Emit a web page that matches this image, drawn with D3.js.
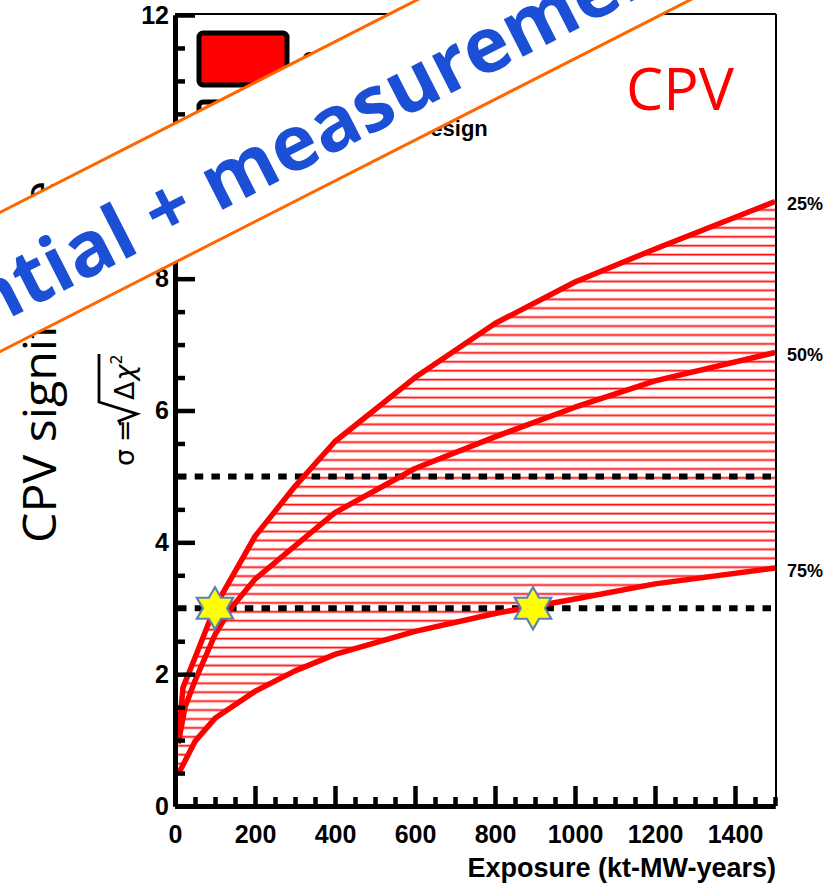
<!DOCTYPE html>
<html lang="en">
<head>
<meta charset="UTF-8">
<title>CPV significance vs exposure</title>
<style>
  html, body { margin: 0; padding: 0; background: #fff; }
  svg { display: block; }
  .tick text { font-family: "Liberation Sans", Arial, sans-serif; font-weight: bold; font-size: 25px; fill: #000; }
</style>
</head>
<body>
<script src="https://d3js.org/d3.v7.min.js"></script>
<script>
// curves: exposure (kt-MW-years) vs sigma, for three delta_CP coverage fractions
const exp25 = [8, 20, 50, 100, 200, 300, 400, 600, 800, 1000, 1200, 1500];
const sig25 = [1.0, 1.8, 2.25, 3.02, 4.09, 4.85, 5.53, 6.5, 7.32, 7.95, 8.45, 9.17];
const exp50 = [8, 25, 50, 100, 140, 200, 400, 600, 800, 1000, 1200, 1500];
const sig50 = [0.95, 1.5, 1.9, 2.6, 3.0, 3.44, 4.45, 5.12, 5.6, 6.05, 6.45, 6.88];
const exp75 = [8, 50, 100, 200, 300, 400, 600, 800, 1000, 1200, 1500];
const sig75 = [0.48, 0.98, 1.33, 1.74, 2.05, 2.3, 2.65, 2.92, 3.14, 3.37, 3.61];
const percentLabels = ["25%", "50%", "75%"];
const refLevels = [5, 3];
const starExp = [100, 895];
const starSig = [3, 3];
const xTicks = [0, 200, 400, 600, 800, 1000, 1200, 1400];
const yTicks = [0, 2, 4, 6, 8, 10, 12];
const legendLabels = ["CDR Reference Design", "Optimized Design"];

const W = 830, H = 884;
const x = d3.scaleLinear().domain([0, 1500]).range([175, 775]);
const y = d3.scaleLinear().domain([0, 12]).range([806, 15]);

const svg = d3.select("body").append("svg")
    .attr("width", W).attr("height", H);

svg.append("rect").attr("width", W).attr("height", H).attr("fill", "#fff");

// hatch pattern
const defs = svg.append("defs");
const pat = defs.append("pattern")
    .attr("id", "hatch")
    .attr("patternUnits", "userSpaceOnUse")
    .attr("width", 20).attr("height", 8.93);
pat.append("line").attr("x1", 0).attr("x2", 20).attr("y1", 4.6).attr("y2", 4.6)
    .attr("stroke", "#ffb4b4").attr("stroke-width", 3);
pat.append("line").attr("x1", 0).attr("x2", 20).attr("y1", 4.6).attr("y2", 4.6)
    .attr("stroke", "#ff1010").attr("stroke-width", 1.4);

const c25 = exp25.map((e, i) => [e, sig25[i]]);
const c50 = exp50.map((e, i) => [e, sig50[i]]);
const c75 = exp75.map((e, i) => [e, sig75[i]]);

const line = d3.line().x(d => x(d[0])).y(d => y(d[1]));

// hatched band between 25% and 75%
const band = c25.concat(c75.slice().reverse());
svg.append("path")
    .attr("d", line(band) + "Z")
    .attr("fill", "url(#hatch)")
    .attr("stroke", "none");

// frame (thin top/right)
svg.append("line").attr("x1", x(0)).attr("x2", x(1500) + 1).attr("y1", y(12) - 1).attr("y2", y(12) - 1)
    .attr("stroke", "#000").attr("stroke-width", 2);
svg.append("line").attr("x1", x(1500) + 1).attr("x2", x(1500) + 1).attr("y1", y(12) - 1).attr("y2", y(0))
    .attr("stroke", "#000").attr("stroke-width", 2);

// dashed reference lines
svg.selectAll("line.ref").data(refLevels).enter().append("line")
    .attr("class", "ref")
    .attr("x1", x(0) + 3).attr("x2", x(1500))
    .attr("y1", d => y(d)).attr("y2", d => y(d))
    .attr("stroke", "#000").attr("stroke-width", 6)
    .attr("stroke-dasharray", "8.5 8.2");

// curves
svg.selectAll("path.curve").data([c25, c50, c75]).enter().append("path")
    .attr("class", "curve")
    .attr("d", line)
    .attr("fill", "none")
    .attr("stroke", "#ff0000")
    .attr("stroke-width", 5.5)
    .attr("stroke-linejoin", "round");

// axes
function styleAxis(g) {
    g.select(".domain").attr("stroke", "#000").attr("stroke-width", 5);
    g.selectAll(".tick line").attr("stroke", "#000").attr("stroke-width", 4.5);
}

const yMinor = d3.range(0, 12.01, 0.5).filter(v => v % 2 !== 0);
svg.append("g").attr("transform", `translate(${x(0)},0)`)
    .call(d3.axisLeft(y).tickValues(yMinor).tickSize(-10).tickSizeOuter(0).tickFormat(""))
    .call(styleAxis);
svg.append("g").attr("transform", `translate(${x(0)},0)`)
    .call(d3.axisLeft(y).tickValues(yTicks).tickSize(-20).tickSizeOuter(0).tickPadding(6).tickFormat(d3.format("d")))
    .call(styleAxis);

const xMinor = d3.range(0, 1501, 50).filter(v => v % 200 !== 0);
svg.append("g").attr("transform", `translate(0,${y(0)})`)
    .call(d3.axisBottom(x).tickValues(xMinor).tickSize(-9).tickSizeOuter(0).tickFormat(""))
    .call(styleAxis);
svg.append("g").attr("transform", `translate(0,${y(0)})`)
    .call(d3.axisBottom(x).tickValues(xTicks).tickSize(-20).tickSizeOuter(0).tickPadding(19).tickFormat(d3.format("d")))
    .call(styleAxis);

// axis title
svg.append("text")
    .attr("x", 776).attr("y", 877)
    .attr("text-anchor", "end")
    .style("font-family", "'Liberation Sans', Arial, sans-serif")
    .style("font-weight", "bold").style("font-size", "27px")
    .text("Exposure (kt-MW-years)");

// percent labels at right end
const ends = [c25, c50, c75].map(c => c[c.length - 1][1]);
svg.selectAll("text.pct").data(percentLabels).enter().append("text")
    .attr("class", "pct")
    .attr("x", 787)
    .attr("y", (d, i) => y(ends[i]) + 2)
    .attr("dy", "0.36em")
    .style("font-family", "'Liberation Sans', Arial, sans-serif")
    .style("font-weight", "bold").style("font-size", "18px")
    .text(d => d);

// stars
function hexagram(r) {
    const pts = [];
    for (let k = 0; k < 12; k++) {
        const a = -Math.PI / 2 + k * Math.PI / 6;
        const rr = k % 2 === 0 ? r : r / Math.sqrt(3);
        pts.push([rr * Math.cos(a), rr * Math.sin(a)]);
    }
    return "M" + pts.map(p => p.join(",")).join("L") + "Z";
}
svg.selectAll("path.star").data(starExp).enter().append("path")
    .attr("class", "star")
    .attr("transform", (d, i) => `translate(${x(d)},${y(starSig[i])})`)
    .attr("d", hexagram(21))
    .attr("fill", "#ffff00")
    .attr("stroke", "#5a80b8")
    .attr("stroke-width", 2.2)
    .attr("stroke-linejoin", "miter");

// legend
const legY = [33, 102];
svg.selectAll("rect.leg").data(legendLabels).enter().append("rect")
    .attr("class", "leg")
    .attr("x", 199).attr("y", (d, i) => legY[i])
    .attr("width", 88).attr("height", 52).attr("rx", 4)
    .attr("fill", (d, i) => i === 0 ? "#ff0000" : "url(#hatch)")
    .attr("stroke", "#000").attr("stroke-width", 5);
svg.selectAll("text.leg").data(legendLabels).enter().append("text")
    .attr("class", "leg")
    .attr("x", 302).attr("y", (d, i) => legY[i] + 34)
    .style("font-family", "'Liberation Sans', Arial, sans-serif")
    .style("font-weight", "bold").style("font-size", "22px")
    .text(d => d);

// CPV tag
svg.append("text")
    .attr("x", 626).attr("y", 110)
    .style("font-family", "'Open Sans', sans-serif")
    .style("font-size", "59px").attr("fill", "#ff0000")
    .text("CPV");

// y titles
svg.append("text")
    .attr("transform", "translate(56,543) rotate(-90) scale(1.05,1)")
    .style("font-family", "'Open Sans', sans-serif")
    .style("font-size", "46px")
    .text("CPV significance");

const sg = svg.append("g").attr("transform", "translate(134,466) rotate(-90)")
    .style("font-family", "'DejaVu Sans', sans-serif").style("font-size", "27px");
sg.append("text").attr("x", 0).attr("y", 0).text("σ");
sg.append("text").attr("x", 24).attr("y", 0).text("=");
sg.append("path")
    .attr("d", "M41,-13 L45,-15 L52,3 L64,-35 L112,-35")
    .attr("fill", "none").attr("stroke", "#000").attr("stroke-width", 2.8);
sg.append("text").attr("x", 66).attr("y", 0).text("Δ")
  .append("tspan").attr("font-style", "italic").attr("dx", 1).text("χ")
  .append("tspan").attr("dy", -12).attr("font-size", "16px").attr("font-style", "normal").text("2");

// banner overlay
const bn = svg.append("g").attr("transform", "translate(167,207) rotate(-27)");
bn.append("rect")
    .attr("x", -700).attr("y", -71).attr("width", 1800).attr("height", 124)
    .attr("fill", "#fff");
[-71, 53].forEach(v => bn.append("line")
    .attr("x1", -700).attr("x2", 1100).attr("y1", v).attr("y2", v)
    .attr("stroke", "#ff6600").attr("stroke-width", 3));
const fs = 77;
const bt = bn.append("g")
    .style("font-family", "'Open Sans', sans-serif")
    .style("font-weight", "bold").style("font-size", fs + "px")
    .attr("fill", "#1a4fd6");
bt.append("text").attr("x", -0.55 * fs).attr("y", 0.36 * fs).attr("text-anchor", "end").text("Potential");
bt.append("text").attr("x", 0).attr("y", 0.36 * fs).attr("text-anchor", "middle").text("+");
bt.append("text").attr("x", 0.55 * fs).attr("y", 0.36 * fs).attr("text-anchor", "start").text("measurement");
</script>
</body>
</html>
